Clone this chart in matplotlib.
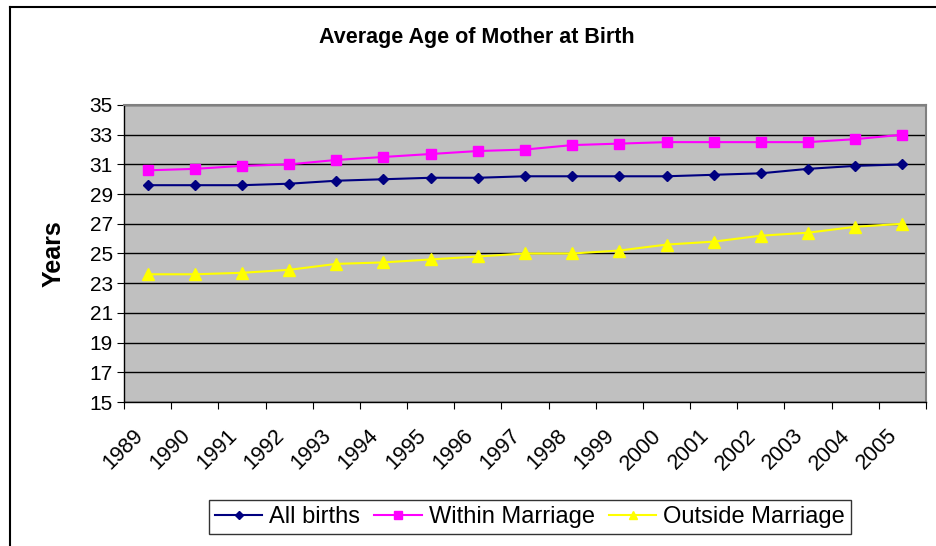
import matplotlib.pyplot as plt
import matplotlib.transforms as mtransforms
from matplotlib.lines import Line2D

plt.rcParams['font.family'] = ['Liberation Sans', 'DejaVu Sans']

# Data
years = list(range(1989, 2006))
all_births = [29.6, 29.6, 29.6, 29.7, 29.9, 30.0, 30.1, 30.1, 30.2,
              30.2, 30.2, 30.2, 30.3, 30.4, 30.7, 30.9, 31.0]
within_marriage = [30.6, 30.7, 30.9, 31.0, 31.3, 31.5, 31.7, 31.9, 32.0,
                   32.3, 32.4, 32.5, 32.5, 32.5, 32.5, 32.7, 33.0]
outside_marriage = [23.6, 23.6, 23.7, 23.9, 24.3, 24.4, 24.6, 24.8, 25.0,
                    25.0, 25.2, 25.6, 25.8, 26.2, 26.4, 26.8, 27.0]

W, H = 937, 546
fig = plt.figure(figsize=(W / 100, H / 100), dpi=100)
ax = fig.add_axes([124 / W, 1 - 402 / H, (926 - 124) / W, (402 - 105) / H])
ax.set_facecolor('#C0C0C0')

x = [i + 0.5 for i in range(len(years))]
ax.plot(x, all_births, color='#000080', lw=1.5, marker='D', markersize=5.5,
        label='All births')
ax.plot(x, within_marriage, color='#FF00FF', lw=1.5, marker='s', markersize=7,
        label='Within Marriage')
ax.plot(x, outside_marriage, color='#FFFF00', lw=1.5, marker='^', markersize=8,
        label='Outside Marriage')

# Axes
ax.set_xlim(0, len(years))
ax.set_ylim(15, 35)
ax.set_yticks(range(15, 36, 2))
ax.yaxis.grid(True, color='black', lw=1)
ax.set_axisbelow(True)
ax.tick_params(axis='y', direction='out', length=5, labelsize=15, pad=3)

ax.set_xticks(range(len(years) + 1))
ax.set_xticklabels([])
ax.tick_params(axis='x', which='major', direction='out', length=5)
ax.set_xticks(x, minor=True)
ax.set_xticklabels([str(y) for y in years], minor=True, rotation=45,
                   ha='right', va='center', rotation_mode='anchor', fontsize=15.5)
ax.tick_params(axis='x', which='minor', length=0, pad=22)
shift = mtransforms.ScaledTranslation(-8 / 100, 0, fig.dpi_scale_trans)
for lbl in ax.get_xticklabels(minor=True):
    lbl.set_transform(lbl.get_transform() + shift)

for s in ['top', 'right']:
    ax.spines[s].set_color('#808080')
    ax.spines[s].set_linewidth(1.5)
for s in ['left', 'bottom']:
    ax.spines[s].set_color('black')
    ax.spines[s].set_linewidth(1)

ax.set_ylabel('Years', fontsize=18, fontweight='bold')
ax.yaxis.set_label_coords((66 - 124) / (926 - 124), 1 - (254 - 105) / (402 - 105))

fig.text(477 / W, 1 - 38 / H, 'Average Age of Mother at Birth',
         ha='center', va='center', fontsize=15.5, fontweight='bold')

# Legend
leg = fig.legend(loc='center', bbox_to_anchor=(530 / W, 1 - 517 / H), ncol=3,
                 fontsize=17, frameon=True, fancybox=False, edgecolor='black',
                 handlelength=2.0, handletextpad=0.3, columnspacing=0.6,
                 borderpad=0.25, markerscale=0.8)
leg.get_frame().set_linewidth(1)

# Chart area border
fig.add_artist(Line2D([10 / W, 1], [1 - 7 / H, 1 - 7 / H], color='black', lw=1.5,
                      transform=fig.transFigure))
fig.add_artist(Line2D([10 / W, 10 / W], [0, 1 - 7 / H], color='black', lw=1.5,
                      transform=fig.transFigure))

fig.savefig('out.png', dpi=100)
